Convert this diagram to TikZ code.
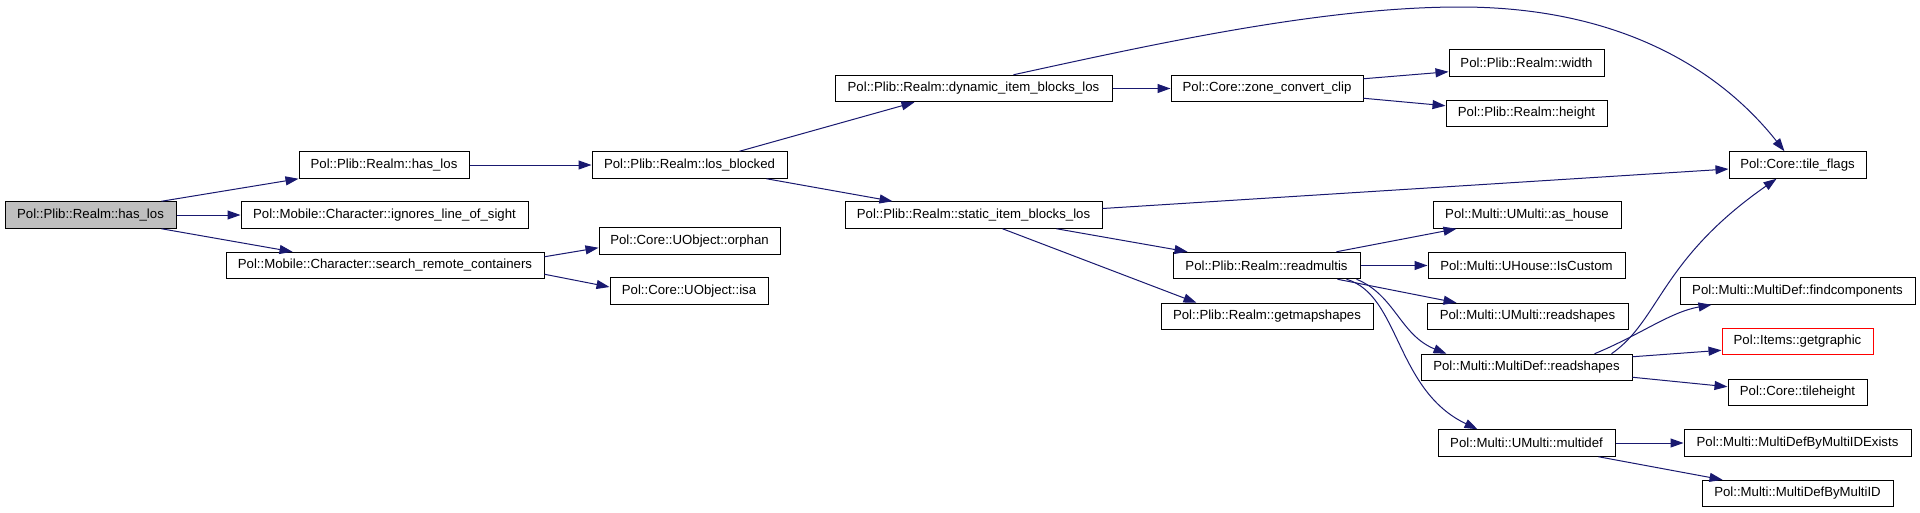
\documentclass[tikz,border=0pt]{standalone}
\usepackage{fontspec}
\setmainfont{Liberation Sans}
\usetikzlibrary{arrows.meta}
\definecolor{edgeblue}{HTML}{191970}
\definecolor{rootgray}{HTML}{BFBFBF}

\begin{document}
\begin{tikzpicture}[x=1pt, y=-1pt,
  fn/.style={draw=black, line width=1pt, rectangle, inner sep=0pt, minimum height=26.5pt,
    font=\fontsize{13.2}{15}\selectfont},
  call/.style={draw=edgeblue, line width=1pt, -{Triangle[length=13pt, width=9pt]}, fill=none}]
  \fill[white] (0,0) rectangle (1920,512);
  \useasboundingbox (0,0) rectangle (1920,512);

  \node[fn, fill=rootgray, minimum width=171pt] at (90.5,215) (root) {Pol::Plib::Realm::has\_los};
  \node[fn, minimum width=170pt] at (384,165) (hasLos) {Pol::Plib::Realm::has\_los};
  \node[fn, minimum width=287pt] at (384.5,215) (ignores) {Pol::Mobile::Character::ignores\_line\_of\_sight};
  \node[fn, minimum width=318pt] at (385,265.5) (search) {Pol::Mobile::Character::search\_remote\_containers};

  \node[fn, minimum width=195pt] at (689.5,165) (losBlocked) {Pol::Plib::Realm::los\_blocked};
  \node[fn, minimum width=181pt] at (689.5,241) (orphan) {Pol::Core::UObject::orphan};
  \node[fn, minimum width=158pt] at (689,291) (isa) {Pol::Core::UObject::isa};

  \node[fn, minimum width=277pt] at (973.5,88.5) (dynamic) {Pol::Plib::Realm::dynamic\_item\_blocks\_los};
  \node[fn, minimum width=257pt] at (973.5,215) (static) {Pol::Plib::Realm::static\_item\_blocks\_los};

  \node[fn, minimum width=192pt] at (1267,88.5) (zone) {Pol::Core::zone\_convert\_clip};
  \node[fn, minimum width=187pt] at (1266.5,265.5) (readmultis) {Pol::Plib::Realm::readmultis};
  \node[fn, minimum width=212pt] at (1267,316.5) (getmapshapes) {Pol::Plib::Realm::getmapshapes};

  \node[fn, minimum width=155pt] at (1526.5,63) (width) {Pol::Plib::Realm::width};
  \node[fn, minimum width=161pt] at (1526.5,113.5) (height) {Pol::Plib::Realm::height};
  \node[fn, minimum width=188pt] at (1527,215) (asHouse) {Pol::Multi::UMulti::as\_house};
  \node[fn, minimum width=197pt] at (1526.5,265.5) (isCustom) {Pol::Multi::UHouse::IsCustom};
  \node[fn, minimum width=201pt] at (1527.5,316.5) (umReadshapes) {Pol::Multi::UMulti::readshapes};
  \node[fn, minimum width=211pt] at (1526.5,367.5) (mdReadshapes) {Pol::Multi::MultiDef::readshapes};
  \node[fn, minimum width=177pt] at (1526.5,443) (multidef) {Pol::Multi::UMulti::multidef};

  \node[fn, minimum width=137pt] at (1797.5,165) (tileFlags) {Pol::Core::tile\_flags};
  \node[fn, minimum width=235pt] at (1797.5,291) (findComponents) {Pol::Multi::MultiDef::findcomponents};
  \node[fn, draw=red, minimum width=151pt] at (1797.5,341.5) (getGraphic) {Pol::Items::getgraphic};
  \node[fn, minimum width=139pt] at (1797.5,392.5) (tileHeight) {Pol::Core::tileheight};
  \node[fn, minimum width=227pt] at (1797.5,443) (byIdExists) {Pol::Multi::MultiDefByMultiIDExists};
  \node[fn, minimum width=191pt] at (1797.5,493.5) (byId) {Pol::Multi::MultiDefByMultiID};

  % calls out of has_los
  \draw[call] ([xshift=-15pt]root.north east) -- (hasLos.south west);
  \draw[call] (root) -- (ignores);
  \draw[call] ([xshift=-15pt]root.south east) -- ([xshift=67pt]search.north west);
  \draw[call] (hasLos) -- (losBlocked);
  \draw[call] ([yshift=-5pt]search.north east) -- ([yshift=7pt]orphan.south west);
  \draw[call] ([yshift=5pt]search.south east) -- ([yshift=4pt]isa.west);

  \draw[call] ([xshift=148pt]losBlocked.north west) -- ([xshift=80pt]dynamic.south west);
  \draw[call] ([xshift=175pt]losBlocked.south west) -- ([xshift=48pt]static.north west);

  \draw[call] (dynamic) -- (zone);
  \draw[call] ([xshift=179pt]dynamic.north west) .. controls (1150,45) and (1320,7) .. (1460,7)
    .. controls (1650,7) and (1740,95) .. ([xshift=56pt]tileFlags.north west);
  \draw[call] ([yshift=6.5pt]static.east) -- ([yshift=-4pt]tileFlags.west);
  \draw[call] ([xshift=212pt]static.south west) -- ([xshift=15pt]readmultis.north west);
  \draw[call] ([xshift=158pt]static.south west) -- ([xshift=36pt]getmapshapes.north west);

  \draw[call] ([yshift=-4pt]zone.north east) -- ([yshift=5pt]width.south west);
  \draw[call] ([yshift=4pt]zone.south east) -- ([yshift=-6pt]height.north west);

  % readmultis
  \draw[call] ([xshift=164pt]readmultis.north west) -- ([xshift=24pt]asHouse.south west);
  \draw[call] (readmultis) -- (isCustom);
  \draw[call] ([xshift=165pt]readmultis.south west) -- ([xshift=30pt]umReadshapes.north west);
  \draw[call] ([xshift=184pt]readmultis.south west) .. controls (1395,295) and (1400,335) .. ([xshift=26pt]mdReadshapes.north west);
  \draw[call] ([xshift=174pt]readmultis.south west) .. controls (1400,295) and (1395,390) .. ([xshift=40pt]multidef.north west);

  % MultiDef::readshapes and multidef
  \draw[call] ([xshift=191pt]mdReadshapes.north west) .. controls (1660,320) and (1660,260) .. ([xshift=48pt]tileFlags.south west);
  \draw[call] ([xshift=174pt]mdReadshapes.north west) .. controls (1640,335) and (1670,312) .. ([xshift=32pt]findComponents.south west);
  \draw[call] ([yshift=-3pt]mdReadshapes.north east) -- ([yshift=5pt]getGraphic.south west);
  \draw[call] ([yshift=4pt]mdReadshapes.south east) -- ([yshift=-8pt]tileHeight.north west);
  \draw[call] (multidef) -- (byIdExists);
  \draw[call] ([xshift=-17pt]multidef.south east) -- ([xshift=21pt]byId.north west);

\end{tikzpicture}
\end{document}
